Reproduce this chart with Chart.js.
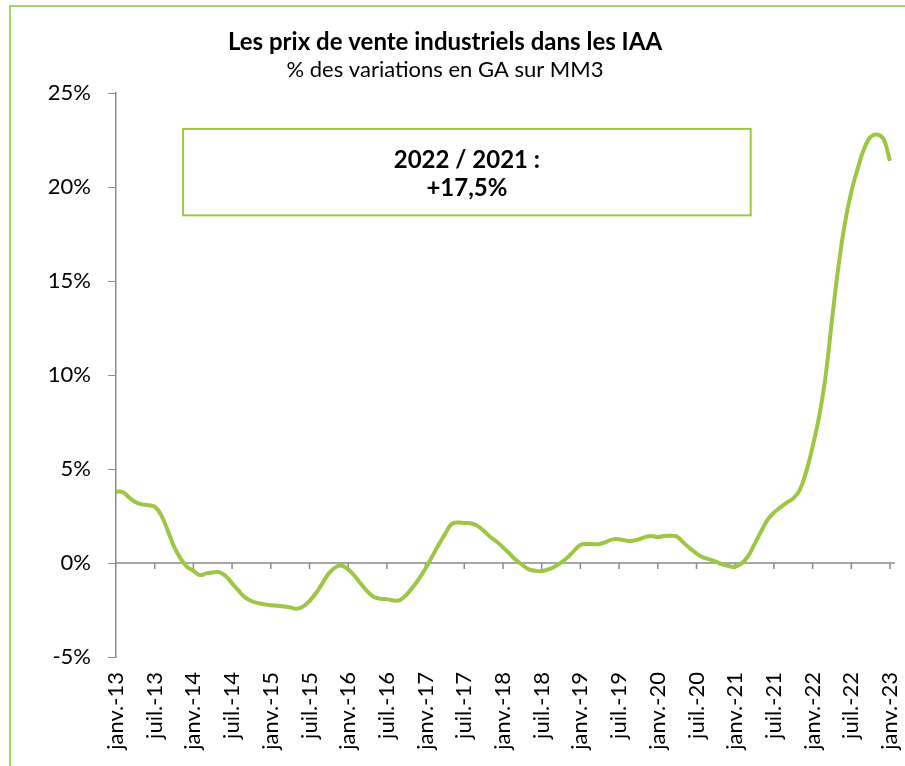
<!DOCTYPE html>
<html>
<head>
<meta charset="utf-8">
<script src="https://cdn.jsdelivr.net/npm/chart.js@4.4.0/dist/chart.umd.min.js"></script>
<style>
  html, body { margin: 0; padding: 0; background: #fff; }
  #wrap { width: 905px; height: 766px; }
</style>
</head>
<body>
<div id="wrap"><canvas id="graf"></canvas></div>
<script>
// categories: mois de janv.-13 a janv.-23
var mois = ['janv.', 'févr.', 'mars', 'avr.', 'mai', 'juin', 'juil.', 'août', 'sept.', 'oct.', 'nov.', 'déc.'];
var annees = ['13', '14', '15', '16', '17', '18', '19', '20', '21', '22', '23'];

// % des variations en GA sur MM3
var variations = [
  3.80, 3.78, 3.50, 3.25, 3.12, 3.08, 3.00, 2.55, 1.75, 0.87, 0.25, -0.20,
  -0.41, -0.64, -0.55, -0.50, -0.48, -0.69, -1.08, -1.47, -1.83, -2.02, -2.13, -2.20,
  -2.25, -2.27, -2.31, -2.36, -2.43, -2.32, -2.02, -1.61, -1.08, -0.55, -0.23, -0.14,
  -0.34, -0.69, -1.12, -1.52, -1.81, -1.90, -1.92, -1.99, -1.97, -1.70, -1.29, -0.83,
  -0.28, 0.34, 0.96, 1.54, 2.06, 2.16, 2.13, 2.12, 1.99, 1.72, 1.40, 1.15,
  0.83, 0.51, 0.16, -0.10, -0.34, -0.41, -0.43, -0.34, -0.20, 0.02, 0.30, 0.65,
  0.96, 1.01, 1.00, 1.01, 1.13, 1.26, 1.26, 1.20, 1.18, 1.26, 1.38, 1.44,
  1.38, 1.44, 1.45, 1.40, 1.08, 0.78, 0.51, 0.30, 0.20, 0.07, -0.07, -0.16,
  -0.20, -0.02, 0.37, 1.01, 1.67, 2.29, 2.68, 2.96, 3.21, 3.44, 3.88, 4.85,
  6.19, 7.78, 9.91, 12.93, 15.76, 18.07, 19.75, 20.99, 22.06, 22.68, 22.80, 22.55,
  21.40
];

var yTicks = [-5, 0, 5, 10, 15, 20, 25];
var encadre = ['2022 / 2021 :', '+17,5%'];

// construction des etiquettes
var labels = [];
for (var a = 0; a < annees.length; a++) {
  for (var m = 0; m < 12; m++) {
    if (labels.length < variations.length) labels.push(mois[m] + '-' + annees[a]);
  }
}

var vert = '#9dc645';
var gris = '#8a8a8a';

// cadre, axe du zero et encadre
var decor = {
  id: 'decor',
  beforeDraw: function (chart) {
    var ctx = chart.ctx;
    ctx.save();
    ctx.strokeStyle = '#a9d06c';
    ctx.lineWidth = 2;
    ctx.strokeRect(10, 6, 1000, 1000);
    ctx.restore();
  },
  beforeDatasetsDraw: function (chart) {
    var ctx = chart.ctx, xs = chart.scales.x, ys = chart.scales.y;
    var y0 = ys.getPixelForValue(0);
    ctx.save();
    ctx.strokeStyle = gris;
    ctx.lineWidth = 1.5;
    ctx.beginPath();
    ctx.moveTo(chart.chartArea.left, y0);
    ctx.lineTo(chart.chartArea.right + 5, y0);
    for (var i = 6; i < labels.length; i += 6) {
      var x = xs.getPixelForValue(i);
      ctx.moveTo(x, y0);
      ctx.lineTo(x, y0 + 6);
    }
    ctx.stroke();
    ctx.restore();
  },
  afterDatasetsDraw: function (chart) {
    var ctx = chart.ctx, xs = chart.scales.x, ys = chart.scales.y;
    var l = xs.getPixelForValue(10.4), r = xs.getPixelForValue(98.4);
    var t = ys.getPixelForValue(23.1), b = ys.getPixelForValue(18.5);
    ctx.save();
    ctx.fillStyle = '#fff';
    ctx.fillRect(l, t, r - l, b - t);
    ctx.strokeStyle = vert;
    ctx.lineWidth = 2;
    ctx.strokeRect(l, t, r - l, b - t);
    ctx.fillStyle = '#000';
    ctx.font = 'bold 24px Lato';
    ctx.textAlign = 'center';
    ctx.textBaseline = 'middle';
    ctx.fillText(encadre[0], (l + r) / 2, t + 31);
    ctx.fillText(encadre[1], (l + r) / 2, t + 59);
    ctx.restore();
  }
};

new Chart(document.getElementById('graf'), {
  type: 'line',
  data: {
    labels: labels,
    datasets: [{
      data: variations,
      borderColor: vert,
      borderWidth: 4,
      pointRadius: 0,
      tension: 0.4,
      fill: false
    }]
  },
  options: {
    responsive: true,
    maintainAspectRatio: false,
    animation: false,
    layout: { padding: { left: 0, right: 15, top: 0, bottom: 0 } },
    plugins: {
      legend: { display: false },
      tooltip: { enabled: false },
      title: {
        display: true,
        text: 'Les prix de vente industriels dans les IAA',
        color: '#000',
        font: { family: 'Lato', size: 24, weight: 'bold' },
        padding: { top: 28, bottom: 0 }
      },
      subtitle: {
        display: true,
        text: '% des variations en GA sur MM3',
        color: '#000',
        font: { family: 'Lato', size: 22 },
        padding: { top: 0, bottom: 10 }
      }
    },
    scales: {
      x: {
        type: 'category',
        offset: false,
        grid: { display: false, drawTicks: false },
        border: { display: false },
        ticks: {
          autoSkip: false,
          maxRotation: 90,
          minRotation: 90,
          padding: 15,
          color: '#000',
          font: { family: 'Lato', size: 22 },
          callback: function (v, i) { return i % 6 === 0 ? labels[i] : ''; }
        },
        afterFit: function (s) { s.height = 109; s.paddingRight = 0; s.paddingLeft = 0; }
      },
      y: {
        min: yTicks[0],
        max: yTicks[yTicks.length - 1],
        afterBuildTicks: function (s) { s.ticks = yTicks.map(function (v) { return { value: v }; }); },
        grid: { drawOnChartArea: false, drawTicks: true, tickLength: 8, color: gris },
        border: { color: gris, width: 1.5 },
        ticks: {
          padding: 17,
          color: '#000',
          font: { family: 'Lato', size: 22 },
          callback: function (v) { return v + '%'; }
        },
        afterFit: function (s) { s.width = 116; }
      }
    }
  },
  plugins: [decor]
});
</script>
</body>
</html>
